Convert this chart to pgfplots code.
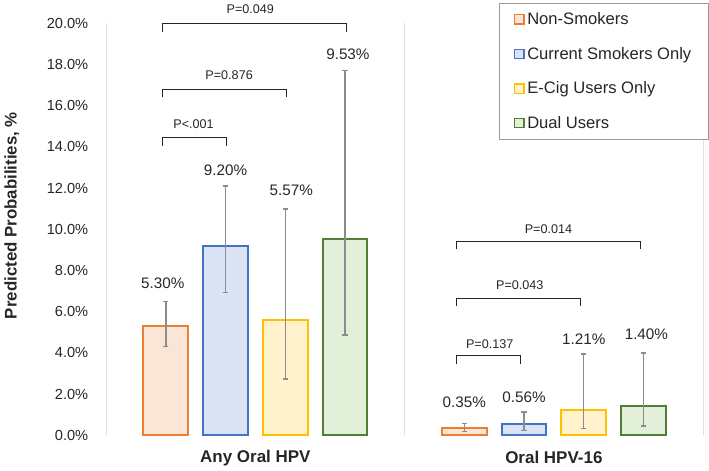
\documentclass[border=0pt]{standalone}
\usepackage{pgfplots}
\pgfplotsset{compat=1.18}
\usepackage{fontspec}
\setmainfont{Liberation Sans}
\definecolor{cOr}{HTML}{ED7D31}\definecolor{fOr}{HTML}{FBE5D6}
\definecolor{cBl}{HTML}{4472C4}\definecolor{fBl}{HTML}{DAE3F3}
\definecolor{cYe}{HTML}{FFC000}\definecolor{fYe}{HTML}{FFF2CC}
\definecolor{cGr}{HTML}{507E32}\definecolor{fGr}{HTML}{E2F0D9}
\definecolor{ebar}{HTML}{8C8C8C}
\begin{document}
\begin{tikzpicture}
\begin{axis}[
  scale only axis, width=450pt, height=310.5pt,
  xmin=-0.5, xmax=1.5, ymin=0, ymax=20,
  clip=false,
  ybar, bar width=0.15, bar shift=0pt,
  axis x line=none,
  axis y line*=left,
  y axis line style={draw=black!12, line width=0.8pt},
  ytick={0,2,...,20}, major tick length=0pt,
  /pgf/number format/assume math mode=true,
  yticklabel={\pgfmathprintnumber[fixed,fixed zerofill,precision=1]{\tick}\%},
  yticklabel style={font=\fontsize{11}{13}\selectfont, color=black!85, xshift=-10pt},
  ylabel={\textbf{Predicted Probabilities, \%}},
  ylabel style={font=\fontsize{12.7}{15}\selectfont, color=black!85, at={(axis description cs:-0.158,0.533)}, anchor=center},
  legend style={at={(axis description cs:0.658,1.05)}, anchor=north west, draw=black!40, line width=0.7pt,
    font=\fontsize{12.5}{15}\selectfont, text=black!85, inner xsep=11pt, inner ysep=5pt, row sep=11.5pt, cells={anchor=west}},
  legend image code/.code={\draw[#1, line width=1pt] (0pt,-3.5pt) rectangle (7pt,3.5pt);},
  error bars/y dir=both, error bars/y explicit,
  error bars/error bar style={draw=ebar, line width=1.1pt},
  error bars/error mark options={draw=ebar, line width=1.1pt, mark size=2pt, rotate=90},
]
\addplot[draw=cOr, fill=fOr, line width=1.5pt] coordinates {(-0.3,5.30) += (0,1.19) -= (0,1.00) (0.7,0.35) += (0,0.21) -= (0,0.16)};
\addlegendentry{Non-Smokers}
\addplot[draw=cBl, fill=fBl, line width=1.5pt] coordinates {(-0.1,9.20) += (0,2.90) -= (0,2.28) (0.9,0.56) += (0,0.57) -= (0,0.32)};
\addlegendentry{Current Smokers Only}
\addplot[draw=cYe, fill=fYe, line width=1.5pt] coordinates {(0.1,5.57) += (0,5.41) -= (0,2.85) (1.1,1.21) += (0,2.74) -= (0,0.89)};
\addlegendentry{E-Cig Users Only}
\addplot[draw=cGr, fill=fGr, line width=1.5pt] coordinates {(0.3,9.53) += (0,8.17) -= (0,4.67) (1.3,1.40) += (0,2.60) -= (0,0.95)};
\addlegendentry{Dual Users}
% separators
\draw[black!12, line width=0.8pt] (axis cs:0.5,0) -- (axis cs:0.5,20);
\draw[black!12, line width=0.8pt] (axis cs:1.5,0) -- (axis cs:1.5,20);
% category labels
\node[font=\fontsize{12.8}{15}\selectfont\bfseries, text=black!85] at (axis cs:0,-1.1) {Any Oral HPV};
\node[font=\fontsize{12.8}{15}\selectfont\bfseries, text=black!85] at (axis cs:1,-1.1) {Oral HPV-16};
% value labels
\begin{scope}[every node/.style={font=\fontsize{11.5}{13}\selectfont, text=black!85}]
\node at (axis cs:-0.31,7.4) {5.30\%};
\node at (axis cs:-0.10,12.85) {9.20\%};
\node at (axis cs:0.12,11.9) {5.57\%};
\node at (axis cs:0.31,18.5) {9.53\%};
\node at (axis cs:0.70,1.6) {0.35\%};
\node at (axis cs:0.90,1.85) {0.56\%};
\node at (axis cs:1.10,4.67) {1.21\%};
\node at (axis cs:1.31,4.9) {1.40\%};
\end{scope}
% brackets
\begin{scope}[line width=0.9pt, black!85]
\draw (axis cs:-0.31,14.05) -- (axis cs:-0.31,14.46) -- (axis cs:-0.097,14.46) -- (axis cs:-0.097,14.05);
\draw (axis cs:-0.31,16.4) -- (axis cs:-0.31,16.8) -- (axis cs:0.103,16.8) -- (axis cs:0.103,16.4);
\draw (axis cs:-0.31,19.6) -- (axis cs:-0.31,20.0) -- (axis cs:0.306,20.0) -- (axis cs:0.306,19.6);
\draw (axis cs:0.673,3.48) -- (axis cs:0.673,3.86) -- (axis cs:0.887,3.86) -- (axis cs:0.887,3.48);
\draw (axis cs:0.673,6.28) -- (axis cs:0.673,6.63) -- (axis cs:1.089,6.63) -- (axis cs:1.089,6.28);
\draw (axis cs:0.673,9.02) -- (axis cs:0.673,9.42) -- (axis cs:1.289,9.42) -- (axis cs:1.289,9.02);
\end{scope}
\begin{scope}[every node/.style={font=\fontsize{9.5}{11}\selectfont, text=black!85}]
\node at (axis cs:-0.207,15.1) {P<.001};
\node at (axis cs:-0.088,17.5) {P=0.876};
\node at (axis cs:-0.017,20.7) {P=0.049};
\node at (axis cs:0.785,4.44) {P=0.137};
\node at (axis cs:0.886,7.29) {P=0.043};
\node at (axis cs:0.982,10.0) {P=0.014};
\end{scope}
\end{axis}
\end{tikzpicture}
\end{document}
